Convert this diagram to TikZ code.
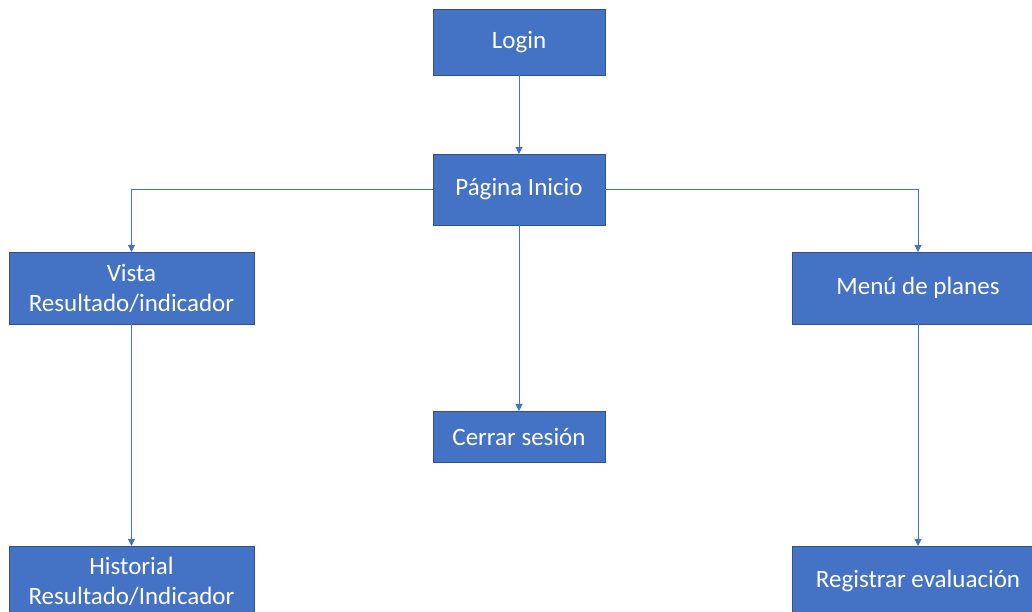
\documentclass[tikz,border=0pt]{standalone}
\usepackage{fontspec}
\setmainfont{Carlito}
\usetikzlibrary{arrows.meta}
\definecolor{boxblue}{HTML}{4472C4}
\definecolor{boxedge}{HTML}{2F528F}
\definecolor{linkblue}{HTML}{4472C4}
\tikzset{
  blk/.style={draw=boxedge, line width=0.8pt, fill=boxblue, text=white, align=center,
    inner sep=0pt, outer sep=0pt, font=\fontsize{25}{30}\selectfont},
  link/.style={draw=linkblue, line width=1pt, -{Triangle[length=7pt,width=7pt]}}
}
\begin{document}
\begin{tikzpicture}[x=1pt,y=1pt]
\useasboundingbox (0,0) rectangle (1032,612);
\node[blk, minimum width=172pt, minimum height=66pt] (login) at (519,570) {Login};
\node[blk, minimum width=172pt, minimum height=71pt] (inicio) at (519,422.5) {Página Inicio};
\node[blk, minimum width=245pt, minimum height=72pt] (vista) at (131.5,324) {Vista\\Resultado/indicador};
\node[blk, minimum width=252pt, minimum height=72pt] (menu) at (918,324) {Menú de planes};
\node[blk, minimum width=172pt, minimum height=51pt] (cerrar) at (519,175.5) {Cerrar sesión};
\node[blk, minimum width=245pt, minimum height=70pt] (hist) at (131.5,31) {Historial\\Resultado/Indicador};
\node[blk, minimum width=252pt, minimum height=70pt] (reg) at (918,31) {Registrar evaluación};
\draw[link] (login.south) -- (inicio.north);
\draw[link] (inicio.west) -| (vista.north);
\draw[link] (inicio.east) -| (menu.north);
\draw[link] (inicio.south) -- (cerrar.north);
\draw[link] (vista.south) -- (hist.north);
\draw[link] (menu.south) -- (reg.north);
\end{tikzpicture}
\end{document}
